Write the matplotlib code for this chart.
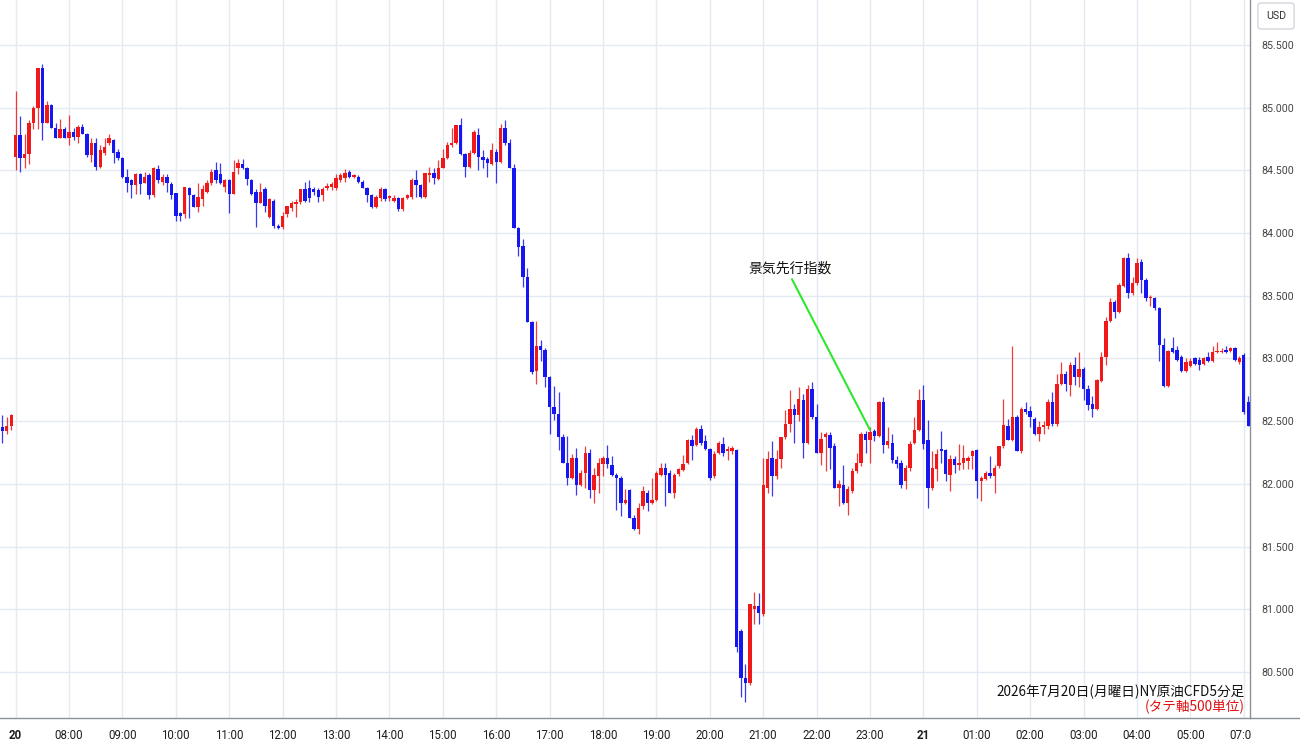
import numpy as np
import matplotlib
matplotlib.use("Agg")
import matplotlib.pyplot as plt
from matplotlib.patches import Rectangle
from matplotlib.lines import Line2D

# NY crude oil CFD, 5 minute candles (3 candles from previous session, then 20th 07:00 -> 21st 07:05)
opens = [82.45, 82.42, 82.46,
    84.61, 84.78, 84.60, 84.63, 84.88, 85.00, 85.32, 84.88, 85.02, 84.84, 84.76, 84.83,
    84.76, 84.81, 84.77, 84.85, 84.79, 84.62, 84.72, 84.53, 84.64, 84.72, 84.74, 84.65,
    84.60, 84.45, 84.42, 84.38, 84.47, 84.40, 84.46, 84.30, 84.51, 84.41, 84.45, 84.39,
    84.32, 84.16, 84.15, 84.36, 84.30, 84.21, 84.27, 84.33, 84.40, 84.50, 84.47, 84.37,
    84.42, 84.31, 84.52, 84.55, 84.52, 84.42, 84.33, 84.24, 84.35, 84.13, 84.26, 84.06,
    84.05, 84.15, 84.20, 84.23, 84.25, 84.35, 84.36, 84.35, 84.34, 84.30, 84.36, 84.37,
    84.36, 84.42, 84.44, 84.49, 84.45, 84.45, 84.41, 84.36, 84.30, 84.21, 84.28, 84.35,
    84.28, 84.26, 84.28, 84.19, 84.28, 84.29, 84.42, 84.38, 84.29, 84.46, 84.48, 84.43,
    84.52, 84.60, 84.70, 84.72, 84.86, 84.63, 84.53, 84.64, 84.78, 84.61, 84.59, 84.55,
    84.65, 84.57, 84.84, 84.72, 84.52, 84.04, 83.90, 83.65, 83.29, 82.90, 83.10, 83.07,
    82.85, 82.61, 82.56, 82.37, 82.17, 82.05, 82.21, 81.99, 82.09, 82.25, 81.95, 82.06,
    82.16, 82.21, 82.15, 82.07, 82.05, 81.85, 81.95, 81.73, 81.64, 81.82, 81.93, 81.85,
    81.87, 82.07, 82.13, 82.09, 81.93, 82.08, 82.11, 82.17, 82.35, 82.31, 82.44, 82.34,
    82.28, 82.06, 82.25, 82.32, 82.26, 82.26, 82.27, 80.83, 80.45, 80.41, 81.00, 81.03,
    80.96, 81.97, 82.21, 82.06, 82.20, 82.37, 82.48, 82.60, 82.55, 82.67, 82.33, 82.76,
    82.53, 82.25, 82.37, 82.39, 82.30, 81.97, 81.99, 81.85, 81.94, 82.10, 82.17, 82.40,
    82.35, 82.42, 82.38, 82.65, 82.31, 82.33, 82.19, 82.17, 82.02, 82.13, 82.33, 82.43,
    82.67, 82.35, 81.97, 82.12, 82.28, 82.27, 82.07, 82.20, 82.15, 82.17, 82.18, 82.22,
    82.27, 82.02, 82.04, 82.09, 82.06, 82.14, 82.30, 82.46, 82.35, 82.53, 82.26, 82.60,
    82.58, 82.52, 82.40, 82.45, 82.46, 82.65, 82.48, 82.80, 82.88, 82.79, 82.95, 82.85,
    82.92, 82.76, 82.64, 82.60, 82.82, 83.01, 83.30, 83.45, 83.37, 83.58, 83.80, 83.52,
    83.60, 83.77, 83.63, 83.48, 83.48, 83.40, 83.11, 82.78, 83.08, 83.07, 83.01, 82.90,
    82.94, 83.00, 82.99, 82.96, 83.01, 82.98, 83.05, 83.05, 83.07, 83.06, 83.08, 82.97,
    83.03, 82.65]
highs = [82.55, 82.53, 82.56,
    85.13, 84.93, 84.79, 84.90, 85.01, 85.32, 85.35, 85.05, 85.03, 84.88, 84.91, 84.85,
    84.94, 84.84, 84.86, 84.87, 84.80, 84.76, 84.76, 84.70, 84.76, 84.79, 84.75, 84.67,
    84.61, 84.51, 84.43, 84.48, 84.48, 84.49, 84.48, 84.53, 84.54, 84.47, 84.47, 84.41,
    84.32, 84.17, 84.37, 84.37, 84.31, 84.40, 84.38, 84.42, 84.51, 84.57, 84.56, 84.43,
    84.43, 84.58, 84.59, 84.59, 84.53, 84.43, 84.35, 84.40, 84.37, 84.28, 84.27, 84.07,
    84.17, 84.22, 84.26, 84.27, 84.35, 84.41, 84.42, 84.37, 84.36, 84.37, 84.40, 84.41,
    84.47, 84.48, 84.51, 84.50, 84.47, 84.46, 84.42, 84.37, 84.31, 84.30, 84.37, 84.36,
    84.30, 84.30, 84.29, 84.29, 84.31, 84.44, 84.50, 84.39, 84.48, 84.53, 84.52, 84.58,
    84.67, 84.73, 84.84, 84.86, 84.92, 84.64, 84.66, 84.82, 84.84, 84.66, 84.61, 84.72,
    84.67, 84.87, 84.90, 84.75, 84.55, 84.05, 83.95, 83.72, 83.30, 83.30, 83.15, 83.08,
    82.86, 82.78, 82.73, 82.40, 82.38, 82.24, 82.29, 82.11, 82.30, 82.28, 82.13, 82.21,
    82.22, 82.31, 82.22, 82.09, 82.06, 81.96, 81.96, 81.75, 81.85, 81.98, 81.95, 82.05,
    82.10, 82.17, 82.17, 82.11, 82.09, 82.13, 82.23, 82.36, 82.39, 82.45, 82.47, 82.39,
    82.29, 82.26, 82.34, 82.37, 82.30, 82.30, 82.28, 80.84, 80.56, 81.04, 81.14, 81.13,
    82.21, 82.26, 82.34, 82.27, 82.37, 82.59, 82.75, 82.64, 82.77, 82.72, 82.79, 82.81,
    82.64, 82.41, 82.41, 82.41, 82.33, 82.03, 82.15, 81.98, 82.13, 82.25, 82.41, 82.42,
    82.45, 82.44, 82.66, 82.69, 82.45, 82.40, 82.22, 82.19, 82.15, 82.34, 82.53, 82.76,
    82.79, 82.51, 82.26, 82.28, 82.42, 82.28, 82.23, 82.22, 82.32, 82.31, 82.22, 82.27,
    82.28, 82.06, 82.10, 82.22, 82.15, 82.30, 82.68, 82.52, 83.10, 82.55, 82.61, 82.65,
    82.62, 82.53, 82.50, 82.50, 82.68, 82.73, 82.88, 82.97, 82.90, 82.97, 83.01, 83.05,
    82.93, 82.79, 82.70, 82.84, 83.05, 83.33, 83.48, 83.47, 83.60, 83.81, 83.84, 83.65,
    83.80, 83.79, 83.64, 83.51, 83.49, 83.41, 83.16, 83.07, 83.17, 83.10, 83.03, 83.00,
    83.00, 83.01, 83.01, 83.01, 83.05, 83.10, 83.13, 83.08, 83.10, 83.09, 83.09, 83.02,
    83.04, 82.70]
lows = [82.33, 82.40, 82.43,
    84.50, 84.49, 84.52, 84.55, 84.83, 84.83, 84.74, 84.88, 84.84, 84.76, 84.76, 84.76,
    84.70, 84.74, 84.72, 84.79, 84.61, 84.57, 84.50, 84.52, 84.62, 84.70, 84.56, 84.58,
    84.44, 84.33, 84.28, 84.31, 84.31, 84.40, 84.27, 84.29, 84.40, 84.38, 84.33, 84.27,
    84.10, 84.10, 84.12, 84.12, 84.21, 84.17, 84.22, 84.32, 84.38, 84.40, 84.39, 84.33,
    84.16, 84.31, 84.47, 84.51, 84.38, 84.30, 84.05, 84.24, 84.17, 84.12, 84.04, 84.03,
    84.03, 84.13, 84.18, 84.13, 84.23, 84.25, 84.25, 84.30, 84.25, 84.26, 84.34, 84.34,
    84.34, 84.41, 84.41, 84.44, 84.44, 84.40, 84.36, 84.25, 84.20, 84.20, 84.26, 84.26,
    84.26, 84.25, 84.18, 84.18, 84.27, 84.27, 84.29, 84.28, 84.28, 84.41, 84.39, 84.42,
    84.52, 84.59, 84.69, 84.71, 84.62, 84.45, 84.52, 84.63, 84.50, 84.52, 84.45, 84.54,
    84.40, 84.56, 84.70, 84.52, 84.04, 83.82, 83.57, 83.29, 82.88, 82.80, 82.98, 82.77,
    82.40, 82.51, 82.27, 82.17, 81.99, 82.04, 81.91, 81.98, 81.97, 81.89, 81.85, 81.93,
    82.06, 82.13, 82.06, 81.79, 81.74, 81.84, 81.73, 81.63, 81.60, 81.80, 81.78, 81.84,
    81.86, 82.06, 81.82, 81.93, 81.89, 82.06, 82.10, 82.16, 82.19, 82.30, 82.31, 82.27,
    82.03, 82.05, 82.24, 82.22, 82.19, 82.24, 80.66, 80.30, 80.26, 80.40, 80.88, 80.88,
    80.95, 81.93, 81.90, 82.04, 82.13, 82.36, 82.41, 82.33, 82.50, 82.21, 82.32, 82.52,
    82.25, 82.15, 82.10, 82.12, 81.97, 81.82, 81.84, 81.75, 81.93, 82.09, 82.14, 82.25,
    82.17, 82.34, 82.37, 82.25, 82.29, 82.17, 82.13, 81.97, 81.96, 82.10, 82.32, 82.42,
    82.28, 81.81, 81.95, 82.02, 82.17, 82.02, 81.94, 82.09, 82.11, 82.12, 82.12, 82.12,
    81.89, 81.86, 82.03, 82.05, 81.93, 82.13, 82.29, 82.35, 82.34, 82.26, 82.25, 82.56,
    82.45, 82.39, 82.34, 82.40, 82.44, 82.46, 82.46, 82.79, 82.74, 82.70, 82.79, 82.77,
    82.67, 82.59, 82.53, 82.59, 82.81, 82.95, 83.29, 83.32, 83.36, 83.57, 83.48, 83.51,
    83.59, 83.52, 83.46, 83.42, 83.39, 82.98, 82.77, 82.77, 83.04, 82.98, 82.89, 82.89,
    82.93, 82.95, 82.91, 82.95, 82.97, 82.97, 83.04, 83.04, 83.04, 83.05, 82.98, 82.96,
    82.56, 82.46]
closes = [82.42, 82.46, 82.55,
    84.78, 84.60, 84.63, 84.88, 85.00, 85.32, 84.88, 85.02, 84.84, 84.76, 84.83, 84.76,
    84.81, 84.77, 84.85, 84.79, 84.62, 84.72, 84.53, 84.66, 84.69, 84.76, 84.64, 84.60,
    84.45, 84.40, 84.38, 84.47, 84.39, 84.45, 84.30, 84.52, 84.42, 84.45, 84.40, 84.30,
    84.14, 84.14, 84.37, 84.30, 84.21, 84.29, 84.35, 84.40, 84.49, 84.42, 84.40, 84.42,
    84.31, 84.49, 84.56, 84.52, 84.43, 84.31, 84.24, 84.33, 84.22, 84.27, 84.06, 84.04,
    84.14, 84.22, 84.24, 84.25, 84.35, 84.26, 84.28, 84.33, 84.29, 84.35, 84.37, 84.39,
    84.44, 84.46, 84.48, 84.45, 84.46, 84.41, 84.36, 84.30, 84.21, 84.29, 84.35, 84.27,
    84.29, 84.28, 84.19, 84.28, 84.30, 84.42, 84.38, 84.29, 84.48, 84.48, 84.44, 84.52,
    84.60, 84.70, 84.72, 84.86, 84.63, 84.53, 84.64, 84.81, 84.61, 84.58, 84.56, 84.66,
    84.57, 84.84, 84.72, 84.52, 84.04, 83.89, 83.65, 83.29, 82.89, 83.10, 83.07, 82.85,
    82.61, 82.56, 82.37, 82.17, 82.05, 82.21, 81.99, 82.09, 82.25, 81.95, 82.07, 82.17,
    82.21, 82.16, 82.07, 82.05, 81.85, 81.87, 81.73, 81.64, 81.81, 81.94, 81.85, 81.87,
    82.09, 82.13, 82.07, 81.93, 82.07, 82.12, 82.16, 82.35, 82.30, 82.44, 82.33, 82.28,
    82.05, 82.24, 82.33, 82.25, 82.28, 82.29, 80.70, 80.45, 80.41, 81.04, 81.03, 80.97,
    81.99, 82.20, 82.06, 82.20, 82.37, 82.48, 82.60, 82.55, 82.68, 82.33, 82.76, 82.53,
    82.25, 82.36, 82.40, 82.29, 81.97, 82.00, 81.85, 81.96, 82.10, 82.17, 82.40, 82.35,
    82.41, 82.38, 82.65, 82.31, 82.34, 82.19, 82.16, 81.99, 82.13, 82.32, 82.43, 82.67,
    82.32, 81.97, 82.13, 82.24, 82.26, 82.08, 82.20, 82.15, 82.17, 82.21, 82.21, 82.26,
    82.02, 82.05, 82.09, 82.06, 82.13, 82.30, 82.47, 82.35, 82.53, 82.26, 82.60, 82.57,
    82.53, 82.40, 82.45, 82.47, 82.65, 82.48, 82.80, 82.88, 82.80, 82.95, 82.85, 82.92,
    82.76, 82.63, 82.60, 82.83, 83.01, 83.30, 83.45, 83.37, 83.59, 83.80, 83.52, 83.60,
    83.76, 83.63, 83.48, 83.49, 83.40, 83.11, 82.78, 83.06, 83.05, 82.99, 82.90, 82.97,
    82.98, 82.96, 82.95, 83.00, 82.98, 83.05, 83.06, 83.06, 83.05, 83.08, 82.99, 83.00,
    82.57, 82.46]

# x axis labels (candle index -> time)
tick_pos = [3, 15, 27, 39, 51, 63, 75, 87, 99, 111, 123, 135, 147, 159, 171, 183,
            195, 207, 219, 231, 243, 255, 267, 279]
tick_lab = ['20', '08:00', '09:00', '10:00', '11:00', '12:00', '13:00', '14:00', '15:00',
            '16:00', '17:00', '18:00', '19:00', '20:00', '21:00', '22:00', '23:00', '21',
            '01:00', '02:00', '03:00', '04:00', '05:00', '07:00']
price_ticks = [80.5, 81.0, 81.5, 82.0, 82.5, 83.0, 83.5, 84.0, 84.5, 85.0, 85.5]

UP = '#f01818'
DOWN = '#1616f0'
GRID = '#e4eaf1'
JP = ['Noto Sans CJK JP', 'DejaVu Sans']

W, H = 1300, 745
fig = plt.figure(figsize=(13, 7.45), dpi=100)
fig.patch.set_facecolor('white')
ax = fig.add_axes([0, 27 / H, 1250 / W, 718 / H])

o = np.array(opens)
h = np.array(highs)
l = np.array(lows)
c = np.array(closes)
x = np.arange(len(o))
cols = np.where(c >= o, UP, DOWN)

# wicks then bodies
ax.vlines(x, l, h, colors=cols, linewidth=0.9, alpha=0.85, zorder=3)
body = np.maximum(np.abs(c - o), 0.012)
ax.bar(x, body, bottom=np.minimum(o, c), width=0.76, color=cols, linewidth=0, zorder=4)

ax.set_xlim(-0.52, 280.4)
ax.set_ylim(80.133, 85.859)

ax.set_xticks(tick_pos)
ax.set_xticklabels(tick_lab)
for t in ax.get_xticklabels():
    if t.get_text() in ('20', '21'):
        t.set_fontweight('bold')
ax.set_yticks(price_ticks)
ax.set_yticklabels(['%.3f' % p for p in price_ticks])
ax.yaxis.tick_right()
ax.tick_params(axis='x', length=0, pad=8, labelsize=8.3, labelcolor='#1e1e1e')
ax.tick_params(axis='y', length=0, pad=8, labelsize=7.7, labelcolor='#444444')
for t in ax.get_xticklabels() + ax.get_yticklabels():
    t.set_fontfamily('Roboto')

ax.grid(True, color=GRID, linewidth=1)
ax.set_axisbelow(True)
for s in ['top', 'left']:
    ax.spines[s].set_visible(False)
for s in ['right', 'bottom']:
    ax.spines[s].set_color('#8a8f98')
    ax.spines[s].set_linewidth(1)

# annotation at 23:00 candle
ax.annotate('景気先行指数', xy=(195, 82.43), xytext=(177, 83.72),
            ha='center', va='center', fontsize=10, family=JP, color='#111111',
            arrowprops=dict(arrowstyle='-', color='#2ee82e', lw=1.5,
                            relpos=(0.5, 0), shrinkA=1, shrinkB=0), zorder=6)

ax.text(0.996, 0.036, '2026年7月20日(月曜日)NY原油CFD5分足', transform=ax.transAxes,
        ha='right', va='center', fontsize=9.8, family=JP, color='#111111', zorder=6)
ax.text(0.996, 0.015, '(タテ軸500単位)', transform=ax.transAxes,
        ha='right', va='center', fontsize=9.8, family=JP, color='#e01010', zorder=6)

# hide the part of the last time label that runs under the price scale
fig.add_artist(Rectangle((1250.8 / W, 0), 1 - 1250.8 / W, 26.5 / H, transform=fig.transFigure,
                         facecolor='white', edgecolor='none', zorder=5))
fig.add_artist(Line2D([1250 / W, 1], [27 / H, 27 / H], transform=fig.transFigure,
                      color='#8a8f98', lw=1, zorder=6))

fig.text(1276 / W, 1 - 16 / H, 'USD', ha='center', va='center', fontsize=7.7,
         family='Roboto', color='#333333',
         bbox=dict(boxstyle='round,pad=0.75,rounding_size=0.3', fc='white', ec='#c8ccd2', lw=0.8))

fig.savefig('out.png', dpi=100)
